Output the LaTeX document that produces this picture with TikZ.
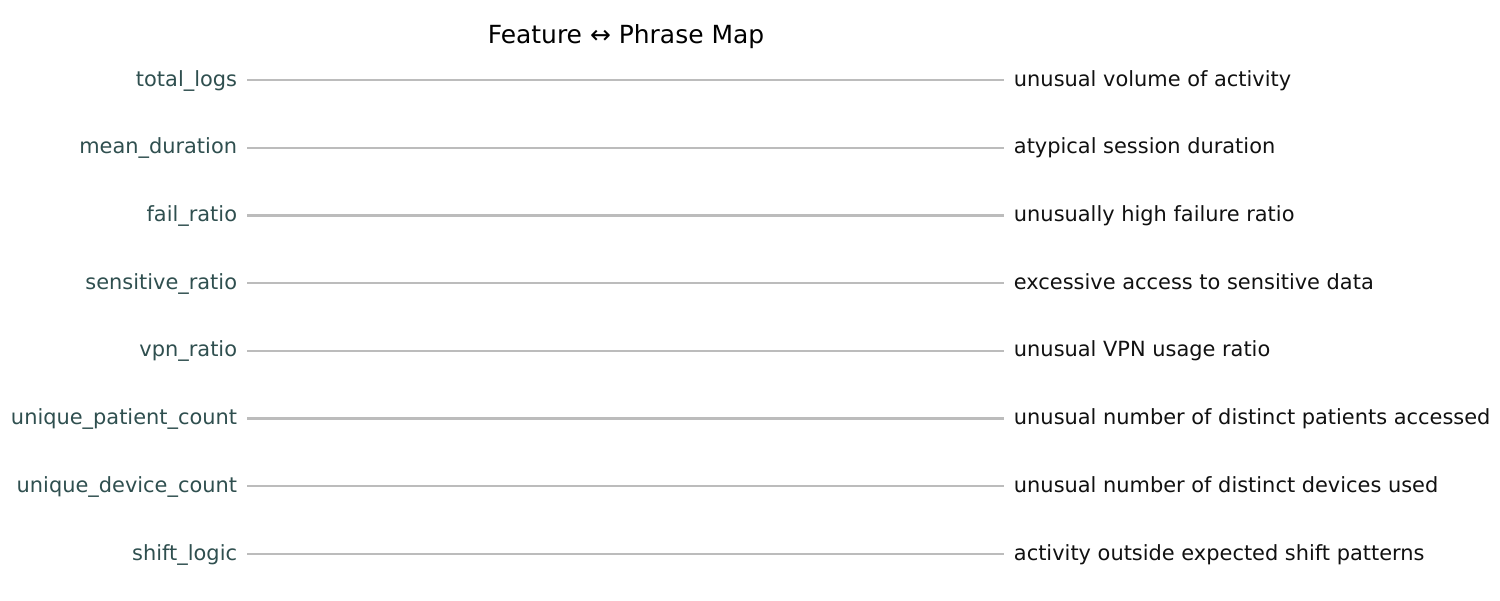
\documentclass[tikz,border=0pt]{standalone}
\usepackage{fontspec}
\setmainfont{DejaVu Sans}
\usepackage{xcolor}
\definecolor{featslate}{RGB}{47,79,79}
\definecolor{phraseink}{RGB}{17,17,17}
\definecolor{linkgray}{RGB}{188,188,188}
\usepackage{tikz}
\usetikzlibrary{positioning}

\tikzset{
  feat/.style={font=\fontsize{11.9}{14}\selectfont, text=featslate, anchor=east,
    inner sep=0pt, outer sep=5.67pt, text height=0.85em, text depth=0.15em},
  phrase/.style={font=\fontsize{11.9}{14}\selectfont, text=phraseink, anchor=west,
    inner sep=0pt, outer sep=5.67pt, text height=0.85em, text depth=0.15em},
  link/.style={draw=linkgray, line width=1.3pt}
}

\begin{document}
\begin{tikzpicture}
  \useasboundingbox (0,0) rectangle (30,12);

  % Title
  \node[font=\fontsize{14.2}{17}\selectfont, text=black] (title) at (12.52,11.26) {Feature ↔ Phrase Map};

  % --- Feature names (left column) ---
  \node[feat] (f1) at (4.94,10.40) {total\_logs};
  \node[feat] (f2) at (4.94,9.046) {mean\_duration};
  \node[feat] (f3) at (4.94,7.692) {fail\_ratio};
  \node[feat] (f4) at (4.94,6.338) {sensitive\_ratio};
  \node[feat] (f5) at (4.94,4.984) {vpn\_ratio};
  \node[feat] (f6) at (4.94,3.630) {unique\_patient\_count};
  \node[feat] (f7) at (4.94,2.276) {unique\_device\_count};
  \node[feat] (f8) at (4.94,0.922) {shift\_logic};

  % --- Phrases (right column) ---
  \node[phrase] (p1) at (20.08,10.40) {unusual volume of activity};
  \node[phrase] (p2) at (20.08,9.046) {atypical session duration};
  \node[phrase] (p3) at (20.08,7.692) {unusually high failure ratio};
  \node[phrase] (p4) at (20.08,6.338) {excessive access to sensitive data};
  \node[phrase] (p5) at (20.08,4.984) {unusual VPN usage ratio};
  \node[phrase] (p6) at (20.08,3.630) {unusual number of distinct patients accessed};
  \node[phrase] (p7) at (20.08,2.276) {unusual number of distinct devices used};
  \node[phrase] (p8) at (20.08,0.922) {activity outside expected shift patterns};

  % Links
  \draw[link] (f1.east) -- (p1.west);
  \draw[link] (f2.east) -- (p2.west);
  \draw[link] (f3.east) -- (p3.west);
  \draw[link] (f4.east) -- (p4.west);
  \draw[link] (f5.east) -- (p5.west);
  \draw[link] (f6.east) -- (p6.west);
  \draw[link] (f7.east) -- (p7.west);
  \draw[link] (f8.east) -- (p8.west);
\end{tikzpicture}
\end{document}
